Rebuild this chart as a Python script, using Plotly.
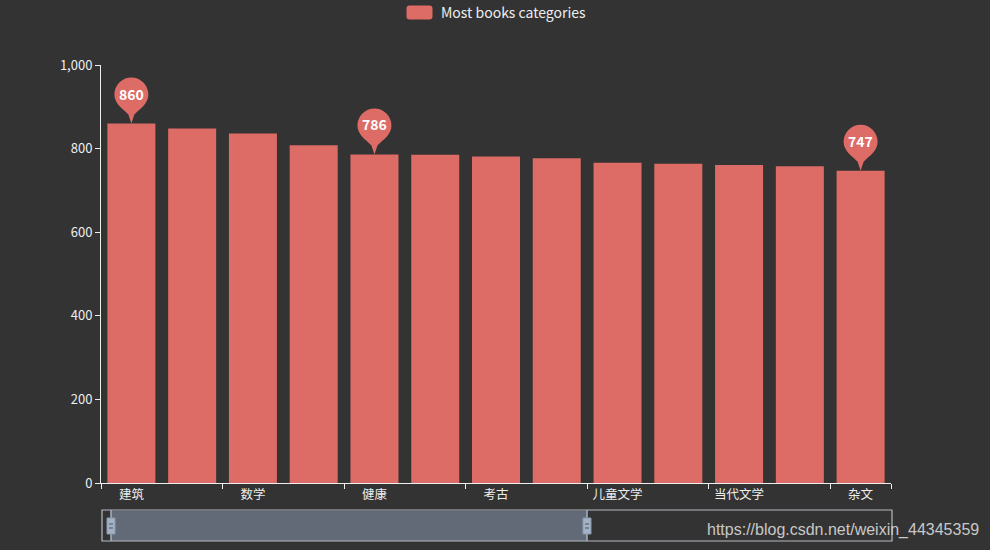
import plotly.graph_objects as go

categories = ["建筑", "历史", "数学", "哲学", "健康", "经济", "考古", "心理学",
              "儿童文学", "小说", "当代文学", "散文", "杂文"]
values = [860, 848, 836, 808, 786, 785, 781, 777, 766, 764, 761, 758, 747]
mark_categories = ["建筑", "健康", "杂文"]
series_name = "Most books categories"
y_ticks = [0, 200, 400, 600, 800, 1000]

BG = "#333333"
BAR = "#dd6b66"
TXT = "#eeeeee"
FONT = "Microsoft YaHei, Noto Sans CJK SC, sans-serif"

fig = go.Figure()
fig.add_trace(go.Bar(x=categories, y=values, name=series_name,
                     marker=dict(color=BAR, line=dict(width=0)),
                     showlegend=False, hoverinfo="x+y"))

# pin path (pixels, relative to anchor at bar top)
pin = ("M 0,0 L -3,9 C -9,15 -17,20 -17,29 C -17,38.4 -9.4,46 0,46 "
       "C 9.4,46 17,38.4 17,29 C 17,20 9,15 3,9 Z")
shapes = []
annotations = []
for c in mark_categories:
    v = values[categories.index(c)]
    shapes.append(dict(type="path", xref="x", yref="y", xsizemode="pixel",
                       ysizemode="pixel", xanchor=c, yanchor=v, path=pin,
                       fillcolor=BAR, line=dict(width=0), layer="above"))
    annotations.append(dict(x=c, y=v, xref="x", yref="y", yshift=30,
                            text=str(v), showarrow=False,
                            font=dict(color="#ffffff", size=14, family=FONT, weight=600)))

W, H = 990, 550
L, R, T, B = 101, 99, 65, 67
pw, ph = W - L - R, H - T - B
def px(x):
    return (x - L) / pw
def py(y):
    return (H - B - y) / ph

# legend (custom, rounded icon)
rr = ("M -10,7 L 10,7 Q 13,7 13,4 L 13,-4 Q 13,-7 10,-7 L -10,-7 "
      "Q -13,-7 -13,-4 L -13,4 Q -13,7 -10,7 Z")
shapes.append(dict(type="path", xref="paper", yref="paper", xsizemode="pixel",
                   ysizemode="pixel", xanchor=px(419.5), yanchor=py(12.5), path=rr,
                   fillcolor=BAR, line=dict(width=0)))
annotations.append(dict(xref="paper", yref="paper", x=px(439), y=py(12.5),
                        xanchor="left", yanchor="middle", text=series_name,
                        showarrow=False, font=dict(color=TXT, size=14, family=FONT)))

# data zoom slider (decoration)
shapes.append(dict(type="rect", xref="paper", yref="paper",
                   x0=px(111), x1=px(587), y0=py(541), y1=py(511),
                   fillcolor="#626a77", line=dict(width=0)))
shapes.append(dict(type="rect", xref="paper", yref="paper",
                   x0=px(102), x1=px(892), y0=py(541), y1=py(510),
                   fillcolor="rgba(0,0,0,0)", line=dict(color="#b5b9c0", width=1.2)))
for hx in (111, 587):
    shapes.append(dict(type="line", xref="paper", yref="paper",
                       x0=px(hx), x1=px(hx), y0=py(541), y1=py(510),
                       line=dict(color="#a4b2c6", width=1.5)))
    shapes.append(dict(type="rect", xref="paper", yref="paper",
                       x0=px(hx - 4), x1=px(hx + 4), y0=py(534), y1=py(518),
                       fillcolor="#a4b2c6", line=dict(color="#8a98ad", width=1)))
    for ly in (524, 528):
        shapes.append(dict(type="line", xref="paper", yref="paper",
                           x0=px(hx - 2), x1=px(hx + 2), y0=py(ly), y1=py(ly),
                           line=dict(color="#4a5260", width=1)))

annotations.append(dict(xref="paper", yref="paper", x=px(981), y=py(530),
                        xanchor="right", yanchor="middle",
                        text="https://blog.csdn.net/weixin_44345359", showarrow=False,
                        font=dict(color="#c8c8c8", size=16, family="Liberation Sans, Arial")))

fig.update_layout(
    width=W, height=H,
    margin=dict(l=L, r=R, t=T, b=B),
    paper_bgcolor=BG, plot_bgcolor=BG,
    bargap=0.21,
    font=dict(family=FONT, color=TXT, size=12),
    shapes=shapes, annotations=annotations,
    showlegend=False,
    xaxis=dict(type="category", tickmode="array", tickvals=categories[::2],
               ticktext=categories[::2], tickson="boundaries",
               ticks="outside", ticklen=5, tickcolor=TXT,
               showline=True, linecolor=TXT, linewidth=1,
               showgrid=False, zeroline=False,
               range=[-0.5, len(categories) - 0.5],
               tickfont=dict(color=TXT, size=12.5)),
    yaxis=dict(range=[0, 1000], tickvals=y_ticks, tickformat=",",
               ticks="outside", ticklen=5, tickcolor=TXT,
               showline=True, linecolor=TXT, linewidth=1,
               showgrid=False, zeroline=False,
               tickfont=dict(color=TXT, size=13)),
)

fig.write_html("out.html")
